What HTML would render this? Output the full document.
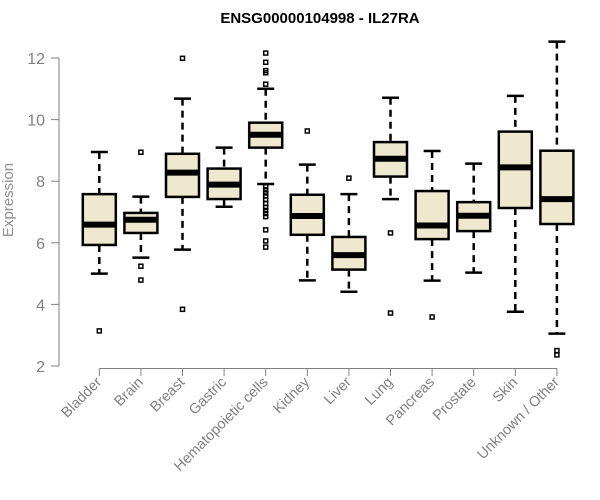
<!DOCTYPE html>
<html><head><meta charset="utf-8"><style>
body{margin:0;background:#fff}
svg{display:block;font-family:"Liberation Sans",Arial,sans-serif}
</style></head><body>
<svg id="chart" width="600" height="500" viewBox="0 0 600 500">
<text x="320" y="23" text-anchor="middle" font-weight="bold" font-size="15">ENSG00000104998 - IL27RA</text>
<text transform="translate(13,200) rotate(-90)" text-anchor="middle" font-size="15" fill="#909090">Expression</text>
<g id="axes"></g><g id="boxes"></g>
</svg>
<script>
const categories=["Bladder","Brain","Breast","Gastric","Hematopoietic cells","Kidney","Liver","Lung","Pancreas","Prostate","Skin","Unknown / Other"];
const whiskLow=[5.0,5.52,5.78,7.17,7.91,4.78,4.41,7.42,4.77,5.03,3.76,3.05];
const q1=[5.93,6.32,7.49,7.42,9.09,6.26,5.13,8.15,6.12,6.38,7.13,6.61];
const medians=[6.59,6.75,8.28,7.89,9.51,6.87,5.60,8.73,6.56,6.88,8.45,7.42];
const q3=[7.58,6.97,8.89,8.41,9.90,7.56,6.19,9.27,7.68,7.32,9.61,8.99];
const whiskHigh=[8.95,7.50,10.68,9.09,11.0,8.54,7.58,10.71,8.98,8.57,10.77,12.53];
const outliers=[[3.14],[8.94,5.24,4.79],[11.99,3.84],[],[12.16,11.86,11.59,11.52,11.15,7.82,7.72,7.62,7.52,7.4,7.28,7.15,7.05,6.95,6.85,6.42,6.06,5.86],[9.63],[8.10],[6.32,3.72],[3.59],[],[],[2.5,2.36]];
const yTicks=[2,4,6,8,10,12];
const NS="http://www.w3.org/2000/svg";
const y=v=>366-(v-2)*30.8;
const x=i=>99.3+i*41.6;
function mk(parent,tag,attrs){const e=document.createElementNS(NS,tag);for(const k in attrs)e.setAttribute(k,attrs[k]);parent.appendChild(e);return e;}
const axes=document.getElementById('axes'),boxes=document.getElementById('boxes');
const gray="#808080";
let l=mk(axes,'line',{x1:59,x2:59,y1:y(12),y2:y(2),stroke:gray});


yTicks.forEach(t=>{
 const tk=mk(axes,'line',{x1:51,x2:59,y1:y(t),y2:y(t),stroke:gray});
 
 
 const tx=mk(axes,'text',{x:45,y:y(t)+6,'text-anchor':'end','font-size':16,fill:gray});
 tx.textContent=t;
 
 
});
const xl=mk(axes,'line',{x1:x(0),x2:x(categories.length-1),y1:368.5,y2:368.5,stroke:gray});


categories.forEach((c,i)=>{
 const cx=x(i);
 const tk=mk(axes,'line',{x1:cx,x2:cx,y1:368.5,y2:376,stroke:gray});
 
 
 const tx=mk(axes,'text',{transform:`translate(${cx+3},${383}) rotate(-45)`,'text-anchor':'end','font-size':14.5,fill:gray});
 tx.textContent=c;
 
 
 const g=mk(boxes,'g',{});
 
 
 const hw=16.5,cw=8.5;
 mk(g,'line',{x1:cx,x2:cx,y1:y(whiskHigh[i]),y2:y(q3[i]),stroke:'#000','stroke-width':2.5,'stroke-dasharray':'7,5'});
 mk(g,'line',{x1:cx,x2:cx,y1:y(q1[i]),y2:y(whiskLow[i]),stroke:'#000','stroke-width':2.5,'stroke-dasharray':'7,5'});
 mk(g,'line',{x1:cx-cw,x2:cx+cw,y1:y(whiskHigh[i]),y2:y(whiskHigh[i]),stroke:'#000','stroke-width':2.5});
 mk(g,'line',{x1:cx-cw,x2:cx+cw,y1:y(whiskLow[i]),y2:y(whiskLow[i]),stroke:'#000','stroke-width':2.5});
 mk(g,'rect',{x:cx-hw,y:y(q3[i]),width:hw*2,height:y(q1[i])-y(q3[i]),fill:'#ede8ce',stroke:'#000','stroke-width':2.5});
 mk(g,'line',{x1:cx-hw,x2:cx+hw,y1:y(medians[i]),y2:y(medians[i]),stroke:'#000','stroke-width':6});
 outliers[i].forEach(o=>{
  const p=mk(g,'rect',{x:cx-2,y:y(o)-2,width:4,height:4,fill:'none',stroke:'#000','stroke-width':1.5});
  
  
 });
});
</script>
</body></html>
